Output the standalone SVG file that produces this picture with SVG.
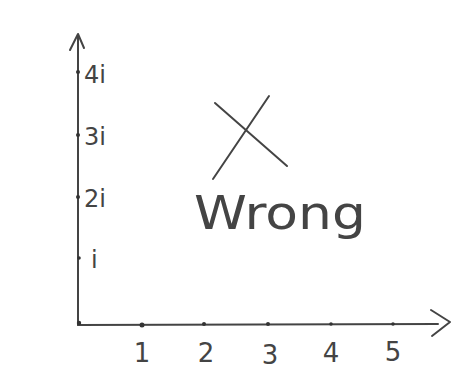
<svg xmlns="http://www.w3.org/2000/svg" width="455" height="370" viewBox="0 0 455 370">
<style>
.ln{stroke:#444;stroke-width:2;fill:none;stroke-linecap:round;stroke-linejoin:round}
.t{font-family:"DejaVu Sans","Liberation Sans",sans-serif;fill:#444;font-size:24px}
.xl{font-size:26px;text-anchor:middle}
.w{font-size:46px}
.dot{fill:#333}
</style>
<rect width="455" height="370" fill="#fff"/>
<g id="axes">
<path class="ln" d="M78 325 L78 35"/>
<path class="ln" d="M70 50 L78 34 L84 48"/>
<path class="ln" d="M78 325 L438 324"/>
<path class="ln" d="M431 310 L450 322 L432 336"/>
</g>
<g id="ticks">
<circle class="dot" cx="142" cy="325" r="2.5"/>
<circle class="dot" cx="204" cy="324" r="2"/>
<circle class="dot" cx="268" cy="324" r="2"/>
<circle class="dot" cx="331" cy="324" r="1.8"/>
<circle class="dot" cx="393" cy="324" r="1.8"/>
<circle class="dot" cx="78" cy="72" r="2"/>
<circle class="dot" cx="78" cy="135" r="2"/>
<circle class="dot" cx="78" cy="197" r="2"/>
<circle class="dot" cx="79" cy="258" r="1.8"/>
<circle class="dot" cx="79" cy="323" r="2.2"/>
</g>
<g id="y-labels">
<text class="t" x="84" y="83">4i</text>
<text class="t" x="84" y="145">3i</text>
<text class="t" x="84" y="207">2i</text>
<text class="t" x="91" y="268">i</text>
</g>
<g id="x-labels">
<text class="t xl" x="142" y="362">1</text>
<text class="t xl" x="206" y="362">2</text>
<text class="t xl" x="270" y="364">3</text>
<text class="t xl" x="331" y="362">4</text>
<text class="t xl" x="393" y="361">5</text>
</g>
<g id="mark">
<path class="ln" d="M215 103 L287 166"/>
<path class="ln" d="M269 96 L213 179"/>
<text class="t w" x="194" y="229" textLength="172" lengthAdjust="spacingAndGlyphs">Wrong</text>
</g>
</svg>
